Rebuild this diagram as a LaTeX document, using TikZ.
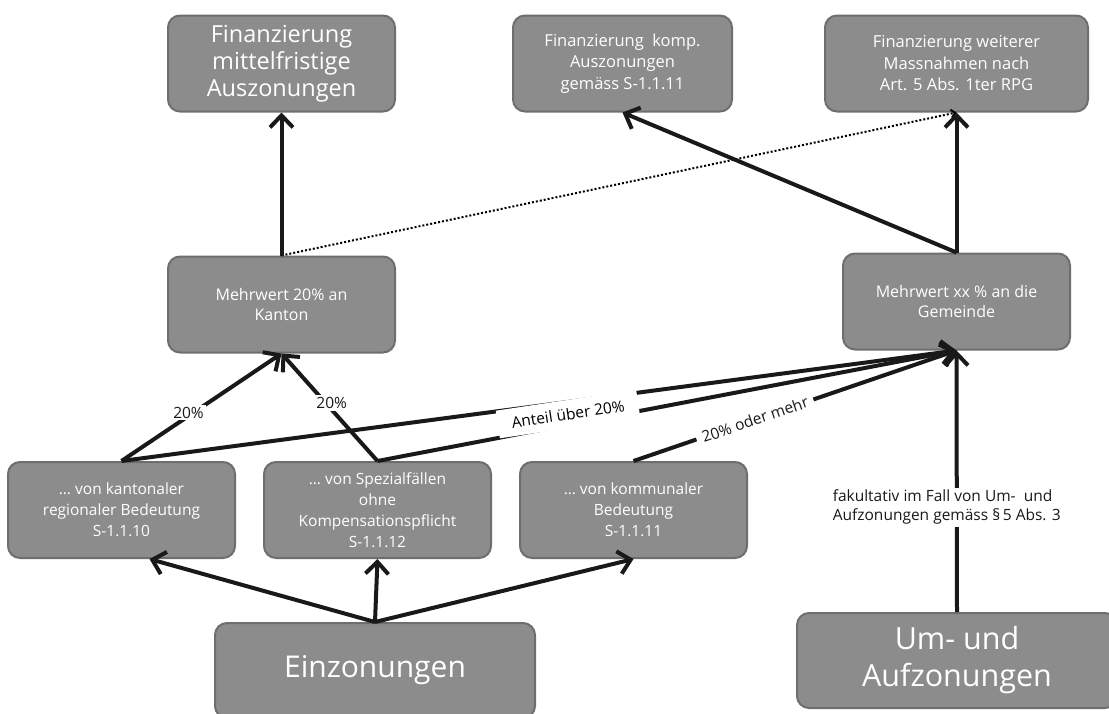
\documentclass[tikz,border=0pt]{standalone}
\usepackage{fontspec}
\setmainfont{Open Sans}
\usetikzlibrary{arrows.meta}
\usetikzlibrary{positioning}

\definecolor{boxgrey}{HTML}{8C8C8C}
\definecolor{boxline}{HTML}{6E6E6E}

\begin{document}
\begin{tikzpicture}[x=1pt,y=-1pt,>={Straight Barb[length=12pt,width=23pt]},
  flow/.style={->,line width=4pt,black!90},
  grey box/.style={rectangle,rounded corners=12pt,fill=boxgrey,draw=boxline,line width=2pt,
    text=white,align=center,minimum width=227pt,minimum height=96pt,inner sep=4pt},
  label node/.style={fill=white,inner sep=2pt,font=\fontsize{15.5}{19}\selectfont}]

  \useasboundingbox (0,0) rectangle (1109,713);

  % top row
  \node[grey box,font=\fontsize{23.5}{27}\selectfont] (fin1) at (281.5,63.5) {Finanzierung\\mittelfristige\\Auszonungen};
  \node[grey box,minimum width=219pt,font=\fontsize{16.5}{21.5}\selectfont] (fin2) at (622.5,63.5) {Finanzierung\ \ komp.\\Auszonungen\\gemäss S-1.1.11};
  \node[grey box,minimum width=263pt,font=\fontsize{16.5}{21.5}\selectfont] (fin3) at (956.5,63.5) {Finanzierung weiterer\\Massnahmen nach\\Art. 5 Abs. 1ter RPG};

  \node[grey box,font=\fontsize{16}{20}\selectfont] (kanton) [below=143pt of fin1] {Mehrwert 20\% an\\Kanton};
  \node[grey box,font=\fontsize{16}{20}\selectfont] (gemeinde) [below=140pt of fin3] {Mehrwert xx \% an die\\Gemeinde};

  % middle row
  \node[grey box,font=\fontsize{15.5}{21}\selectfont] (kantonal) at (121.5,510) {… von kantonaler\\regionaler Bedeutung\\S-1.1.10};
  \node[grey box,font=\fontsize{15.5}{21}\selectfont] (spezial) [right=27pt of kantonal] {… von Spezialfällen\\ohne\\Kompensationspflicht\\S-1.1.12};
  \node[grey box,font=\fontsize{15.5}{21}\selectfont] (kommunal) [right=27pt of spezial] {… von kommunaler\\Bedeutung\\S-1.1.11};

  % bottom row
  \node[grey box,minimum width=320pt,minimum height=95pt,font=\fontsize{30}{34}\selectfont] (einz) at (375,670.5) {Einzonungen};
  \node[grey box,minimum width=320pt,minimum height=95pt,font=\fontsize{30.5}{37}\selectfont] (umauf) at (957,660.5) {Um- und\\Aufzonungen};

  \draw[dotted,line width=2pt,-{Straight Barb[length=4pt,width=8pt]}] (kanton.north) -- (fin3.south);
  \draw[flow] (kanton.north) -- (fin1.south);
  \draw[flow] (gemeinde.north) -- (fin2.south);
  \draw[flow] (gemeinde.north) -- (fin3.south);

  \draw[flow] (einz.north) -- ([xshift=28pt]kantonal.south);
  \draw[flow] (einz.north) -- (spezial.south);
  \draw[flow] (einz.north) -- (kommunal.south);

  \draw[flow] (kantonal.north) -- (gemeinde.south);
  \draw[flow] (spezial.north) -- (gemeinde.south);
  \node[label node,rotate=8.5,inner xsep=14pt,inner ysep=8pt] (anteil) at (568,414) {Anteil über 20\%};

  \draw[flow] (kantonal.north) -- node[label node,pos=0.45,xshift=-5pt] (pk1) {20\%} (kanton.south);
  \draw[flow] (spezial.north) -- node[label node,pos=0.54,xshift=6pt] (pk2) {20\%} (kanton.south);
  \draw[flow] (kommunal.north) -- node[label node,sloped,pos=0.376,inner xsep=6pt] (pg) {20\% oder mehr} (gemeinde.south);
  \draw[flow] (umauf.north) -- node[label node,pos=0.4,align=left,xshift=-10pt] (fak) {fakultativ im Fall von Um-\ \ und\\Aufzonungen gemäss §\,5 Abs. 3} (gemeinde.south);

\end{tikzpicture}
\end{document}
